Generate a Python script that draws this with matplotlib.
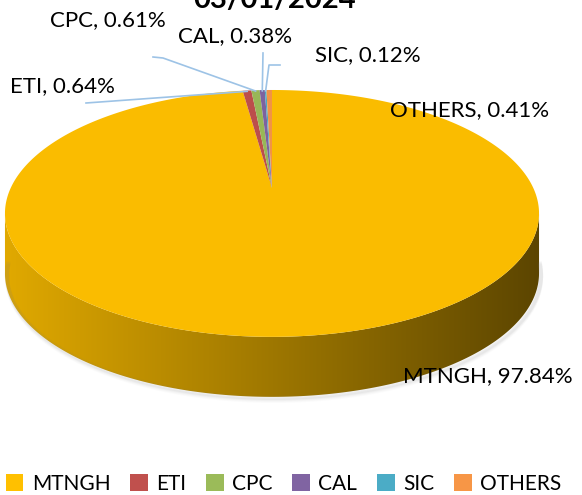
import numpy as np
import matplotlib
matplotlib.use("Agg")
import matplotlib.pyplot as plt
from matplotlib.patches import Polygon, Patch
from matplotlib.colors import to_rgb

plt.rcParams['font.family'] = ['Lato', 'DejaVu Sans']

# data
title = "03/01/2024"
names = ["MTNGH", "ETI", "CPC", "CAL", "SIC", "OTHERS"]
shares = [97.84, 0.64, 0.61, 0.38, 0.12, 0.41]
colors = ["#FFC000", "#C0504D", "#9BBB59", "#8064A2", "#4BACC6", "#F79646"]

# label spots (pixels) and leader line start points
label_pos = {"MTNGH": (403, 376), "ETI": (10, 86), "CPC": (50, 20),
             "CAL": (178, 36), "SIC": (315, 55), "OTHERS": (390, 110)}
leader = {"ETI": [(86, 103)], "CPC": [(153, 57), (163, 58)],
          "CAL": [(263, 53)], "SIC": [(280, 65), (269, 65)]}

W, H = 582, 495
fig = plt.figure(figsize=(W / 100, H / 100), dpi=100)
ax = fig.add_axes([0, 0, 1, 1])
ax.set_xlim(0, W)
ax.set_ylim(H, 0)
ax.axis("off")

# perspective of the tilted disc
cx, y0 = 272, 188
k = 0.206
a, b = 261.3, 118.2
depth = 60


def proj(theta, r=1.0, dz=0.0):
    # theta in degrees, clockwise from the back (12 o'clock)
    t = np.radians(theta)
    u = r * np.sin(t)
    v = -r * np.cos(t)
    w = 1.0 / (1.0 - k * v)
    return cx + a * u * w, y0 + b * v * w + dz


def darker(c, f):
    return tuple(np.array(to_rgb(c)) * f)


edges = np.concatenate([[0], np.cumsum(shares)]) / sum(shares) * 360
lo = 90 + np.degrees(np.arcsin(k))
hi = 360 - lo

# soft shadow under the wall
th = np.linspace(lo - 5, hi + 5, 200)
sx, sy = proj(th, dz=depth)
for i, al in enumerate([0.06, 0.05, 0.04, 0.03]):
    ax.plot(sx + 2, sy + 1 + i, color="gray", alpha=al, lw=3)

# side wall, shaded from left to right
grad_x = np.linspace(0, W, 300)
for i, c in enumerate(colors):
    t0, t1 = max(edges[i], lo), min(edges[i + 1], hi)
    if t1 <= t0:
        continue
    th = np.linspace(t0, t1, 200)
    tx, ty = proj(th)
    pts = np.column_stack([np.r_[tx, tx[::-1]], np.r_[ty, ty[::-1] + depth]])
    poly = Polygon(pts, closed=True, facecolor="none", edgecolor="none")
    ax.add_patch(poly)
    f = np.clip(0.88 - 0.52 * (grad_x - 5) / 535, 0.35, 0.9)
    img = np.array([[darker(c, ff) for ff in f]])
    im = ax.imshow(img, extent=(0, W, H, 0), aspect="auto", zorder=1)
    im.set_clip_path(poly)

# top face
for i, c in enumerate(colors):
    th = np.linspace(edges[i], edges[i + 1], max(3, int((edges[i + 1] - edges[i]) * 2)))
    tx, ty = proj(th)
    pts = np.column_stack([np.r_[cx, tx], np.r_[y0, ty]])
    ax.add_patch(Polygon(pts, closed=True, facecolor=darker(c, 0.98),
                         edgecolor="none", zorder=2))

# labels and leader lines
for i, n in enumerate(names):
    x, y = label_pos[n]
    ax.text(x, y, f"{n}, {shares[i]:.2f}%", fontsize=16, va="center", ha="left",
            color="black", zorder=5)
    if n in leader:
        mid = (edges[i] + edges[i + 1]) / 2
        ex, ey = proj(mid, r=0.99)
        lx = [p[0] for p in leader[n]] + [ex]
        ly = [p[1] for p in leader[n]] + [ey]
        ax.plot(lx, ly, color="#9DC3E6", lw=1.2, zorder=4)

fig.text(0.472, 1 - 8 / H, title, fontsize=21, fontweight="bold",
         ha="center", va="baseline")

handles = [Patch(facecolor=c, edgecolor="none") for c in colors]
fig.legend(handles, names, loc="center", bbox_to_anchor=(0.487, 1 - 484 / H),
           ncol=6, frameon=False, fontsize=15, handlelength=0.85,
           handleheight=0.85, handletextpad=0.4, columnspacing=0.95)

fig.savefig("out.png", dpi=100)
